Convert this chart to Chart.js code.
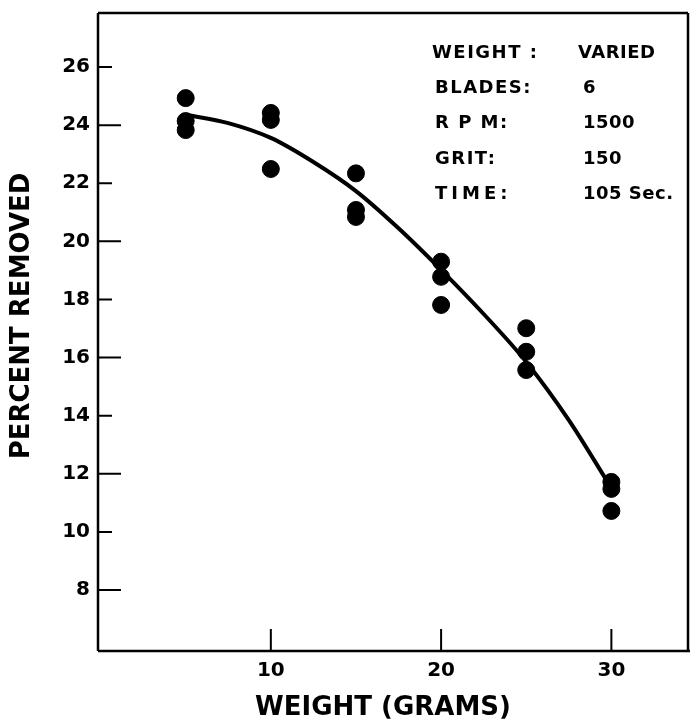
<!DOCTYPE html>
<html>
<head>
<meta charset="utf-8">
<script src="https://cdn.jsdelivr.net/npm/chart.js@4/dist/chart.umd.min.js"></script>
<style>
  html, body { margin: 0; padding: 0; background: #fff; }
  #wrap { width: 690px; height: 724px; position: relative; }
</style>
</head>
<body>
<div id="wrap"><canvas id="chartWeight"></canvas></div>
<script>
"use strict";

// measured points: weight (g) vs percent removed
var dotX = [5, 5, 5, 10, 10, 10, 15, 15, 15, 20, 20, 20, 25, 25, 25, 30, 30, 30];
var dotY = [24.93, 24.14, 23.83, 24.42, 24.18, 22.49, 22.34, 21.08, 20.84,
            19.30, 18.78, 17.81, 17.01, 16.20, 15.57, 11.72, 11.48, 10.72];

// fitted curve
var curveX = [5.1, 7.5, 10, 12.5, 15, 17.5, 20, 22.5, 25, 27.5, 29.8];
var curveY = [24.35, 24.07, 23.56, 22.73, 21.73, 20.45, 19.02, 17.50, 15.85, 13.85, 11.70];

var xTicks = [10, 20, 30];
var yTicks = [8, 10, 12, 14, 16, 18, 20, 22, 24, 26];

var infoLabels = ['WEIGHT :', 'BLADES:', 'R P M:', 'GRIT:', 'TIME:'];
var infoValues = ['VARIED', '6', '1500', '150', '105 Sec.'];

var FONT = '"DejaVu Sans", sans-serif';

var toPts = function(xs, ys) {
  return xs.map(function(x, i) { return { x: x, y: ys[i] }; });
};

// no edge padding for end labels, the box is placed by hand
var noPad = function(s) {
  s.paddingLeft = 0; s.paddingRight = 0; s.paddingTop = 0; s.paddingBottom = 0;
};

// axis box, inward tick marks, titles and the info block
var decor = {
  id: 'decor',
  afterDraw: function(chart) {
    var ctx = chart.ctx, a = chart.chartArea;
    var xs = chart.scales.x, ys = chart.scales.y;
    ctx.save();
    ctx.strokeStyle = '#000';
    ctx.lineWidth = 2.5;
    ctx.beginPath();
    ctx.moveTo(a.left, a.top); ctx.lineTo(a.right, a.top);
    ctx.moveTo(a.right, a.top); ctx.lineTo(a.right, a.bottom);
    ctx.moveTo(a.left, a.top); ctx.lineTo(a.left, a.bottom);
    ctx.moveTo(a.left, a.bottom); ctx.lineTo(a.right + 2, a.bottom);
    ctx.stroke();

    ctx.lineWidth = 2;
    ctx.beginPath();
    yTicks.forEach(function(v) {
      var p = ys.getPixelForValue(v);
      ctx.moveTo(a.left, p);
      ctx.lineTo(a.left + (v % 4 === 0 ? 23 : 14), p);
    });
    xTicks.forEach(function(v) {
      var p = xs.getPixelForValue(v);
      ctx.moveTo(p, a.bottom);
      ctx.lineTo(p, a.bottom - 22);
    });
    ctx.stroke();

    ctx.fillStyle = '#000';
    ctx.font = 'bold 26px ' + FONT;
    ctx.textAlign = 'center';
    ctx.textBaseline = 'middle';
    ctx.fillText('WEIGHT (GRAMS)', 383, 708);
    ctx.translate(22, 316);
    ctx.rotate(-Math.PI / 2);
    ctx.fillText('PERCENT REMOVED', 0, 0);
    ctx.restore();

    ctx.save();
    ctx.fillStyle = '#000';
    ctx.font = 'bold 18px ' + FONT;
    ctx.textAlign = 'left';
    ctx.textBaseline = 'middle';
    infoLabels.forEach(function(t, i) {
      var y = 53 + i * 35.3;
      ctx.letterSpacing = (i === 4 ? '4px' : '1.5px');
      ctx.fillText(t, i === 0 ? 432 : 435, y);
      ctx.letterSpacing = '0.5px';
      ctx.fillText(infoValues[i], i === 0 ? 578 : 583, y);
    });
    ctx.restore();
  }
};

new Chart(document.getElementById('chartWeight'), {
  type: 'scatter',
  data: {
    datasets: [
      {
        type: 'line',
        label: 'fit',
        data: toPts(curveX, curveY),
        borderColor: '#000',
        borderWidth: 4,
        pointRadius: 0,
        cubicInterpolationMode: 'monotone',
        fill: false
      },
      {
        label: 'measured',
        data: toPts(dotX, dotY),
        backgroundColor: '#000',
        borderColor: '#000',
        pointRadius: 8.5,
        pointHoverRadius: 8.5
      }
    ]
  },
  options: {
    responsive: true,
    maintainAspectRatio: false,
    animation: false,
    events: [],
    layout: { autoPadding: false, padding: { top: 13, right: 2, left: 0, bottom: 0 } },
    plugins: { legend: { display: false }, tooltip: { enabled: false } },
    scales: {
      x: {
        type: 'linear', min: -0.15, max: 34.5,
        afterBuildTicks: function(s) { s.ticks = xTicks.map(function(v) { return { value: v }; }); },
        afterFit: function(s) { s.height = 73; noPad(s); },
        grid: { display: false, drawTicks: false },
        border: { display: false },
        ticks: { color: '#000', padding: 8, maxRotation: 0, font: { family: FONT, size: 20, weight: 'bold' } }
      },
      y: {
        type: 'linear', min: 5.9, max: 27.86,
        afterBuildTicks: function(s) { s.ticks = yTicks.map(function(v) { return { value: v }; }); },
        afterFit: function(s) { s.width = 98; noPad(s); },
        grid: { display: false, drawTicks: false },
        border: { display: false },
        ticks: { color: '#000', padding: 8, font: { family: FONT, size: 20, weight: 'bold' } }
      }
    }
  },
  plugins: [decor]
});
</script>
</body>
</html>
